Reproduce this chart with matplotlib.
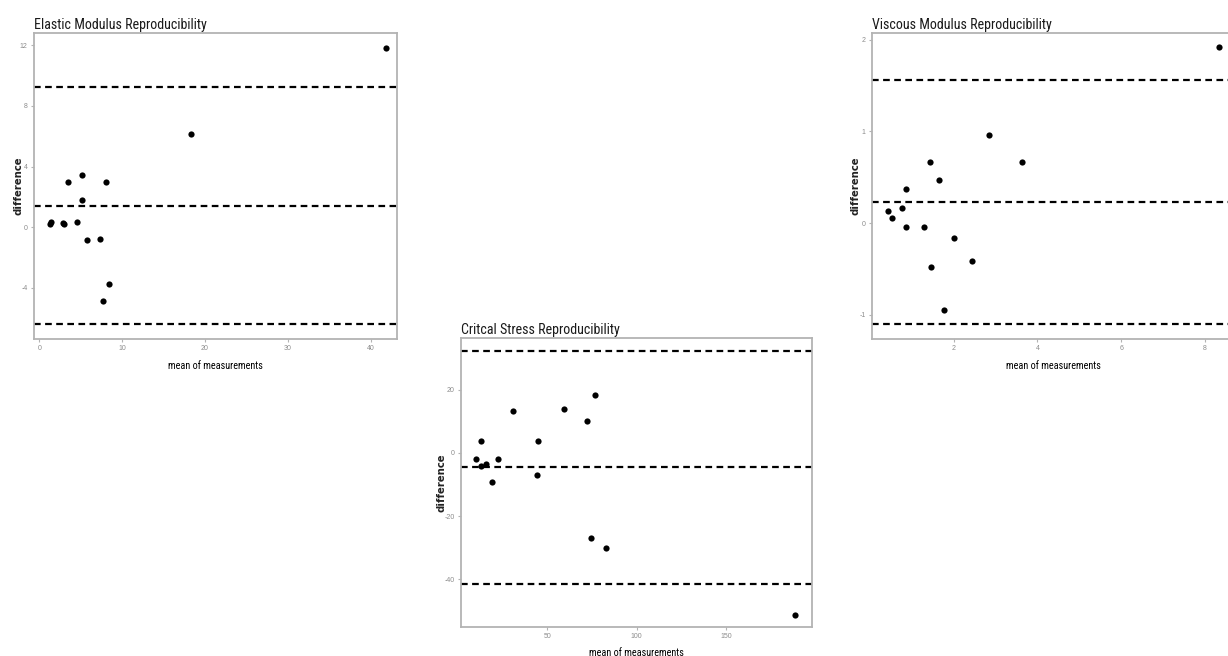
#!/usr/bin/env python3
import matplotlib
matplotlib.use('Agg')
import matplotlib.pyplot as plt
from matplotlib import font_manager

plt.rcParams['axes.unicode_minus'] = False

# Elastic modulus: mean of measurements vs difference
elastic_mean = [41.9, 18.3, 3.4, 5.1, 8.0, 5.2, 1.3, 1.4, 2.8, 3.0, 4.6, 5.8, 7.3, 8.4, 7.7]
elastic_diff = [11.85, 6.14, 2.99, 3.43, 2.97, 1.76, 0.24, 0.37, 0.29, 0.20, 0.35, -0.86, -0.75, -3.76, -4.90]
elastic_lines = [9.23, 1.38, -6.37]
elastic_yticks = [-4, 0, 4, 8, 12]
elastic_xticks = [0, 10, 20, 30, 40]

# Viscous modulus
viscous_mean = [8.33, 2.84, 3.63, 1.44, 1.64, 0.87, 0.44, 0.52, 0.76, 0.87, 1.29, 2.01, 2.44, 1.46, 1.77]
viscous_diff = [1.92, 0.96, 0.67, 0.67, 0.47, 0.37, 0.13, 0.06, 0.16, -0.04, -0.04, -0.16, -0.41, -0.48, -0.95]
viscous_lines = [1.56, 0.225, -1.10]
viscous_yticks = [-1, 0, 1, 2]
viscous_xticks = [2, 4, 6, 8]

# Critical stress
stress_mean = [10.1, 13.1, 12.7, 15.5, 22.4, 19.0, 30.8, 44.0, 45.0, 59.5, 72.2, 76.5, 74.6, 82.8, 188.8]
stress_diff = [-1.8, 3.8, -4.0, -3.4, -1.8, -9.1, 13.4, -7.0, 3.8, 14.0, 10.2, 18.5, -26.9, -30.1, -51.2]
stress_lines = [32.2, -4.4, -41.4]
stress_yticks = [-40, -20, 0, 20]
stress_xticks = [50, 100, 150]

# use a condensed face if one happens to be installed, else Lato
installed = {f.name for f in font_manager.fontManager.ttflist}
NARROW = [n for n in ['Liberation Sans Narrow', 'Roboto Condensed'] if n in installed] + ['Lato', 'DejaVu Sans']
TITLE_SIZE = 10.1 if NARROW[0] != 'Lato' else 9.6
TICK_FONT = ['Liberation Sans', 'DejaVu Sans']
GRAY = '#b3b3b3'


def bland_altman(ax, means, diffs, lines, xticks, yticks, title, xlim, ylim, ylabel_x):
    ax.scatter(means, diffs, s=20, color='black', zorder=3, linewidths=0)
    for val in lines:
        ax.axhline(val, color='black', linestyle=(0, (3, 2)), linewidth=1.6)
    ax.set_xlim(*xlim)
    ax.set_ylim(*ylim)
    ax.set_xticks(xticks)
    ax.set_yticks(yticks)
    ax.tick_params(axis='both', length=2.5, width=0.8, color=GRAY, labelsize=5,
                   labelcolor='#8c8c8c', pad=2)
    for tl in ax.get_xticklabels() + ax.get_yticklabels():
        tl.set_family(TICK_FONT)
    for spine in ax.spines.values():
        spine.set_color(GRAY)
        spine.set_linewidth(1.3)
    ax.set_title(title, loc='left', fontsize=TITLE_SIZE, family=NARROW, pad=3, color='#1a1a1a')
    ax.set_xlabel('mean of measurements', fontsize=7.3, family=NARROW, labelpad=6)
    ax.set_ylabel('difference', fontsize=7.3, fontweight='bold', color='#222222')
    ax.yaxis.set_label_coords(ylabel_x, 0.5)


fig = plt.figure(figsize=(12.28, 6.56), dpi=100)

ax1 = fig.add_axes([0.0277, 0.4832, 0.2956, 0.466])
bland_altman(ax1, elastic_mean, elastic_diff, elastic_lines, elastic_xticks, elastic_yticks,
             'Elastic Modulus Reproducibility', (-0.65, 43.2), (-7.38, 12.79), -0.030)

ax2 = fig.add_axes([0.7101, 0.4832, 0.2956, 0.466])
bland_altman(ax2, viscous_mean, viscous_diff, viscous_lines, viscous_xticks, viscous_yticks,
             'Viscous Modulus Reproducibility', (0.048, 8.72), (-1.265, 2.07), -0.033)

ax3 = fig.add_axes([0.3752, 0.0447, 0.2858, 0.4396])
bland_altman(ax3, stress_mean, stress_diff, stress_lines, stress_xticks, stress_yticks,
             'Critcal Stress Reproducibility', (1.5, 197.9), (-55.0, 36.3), -0.042)

plt.savefig('out.png', dpi=100)
